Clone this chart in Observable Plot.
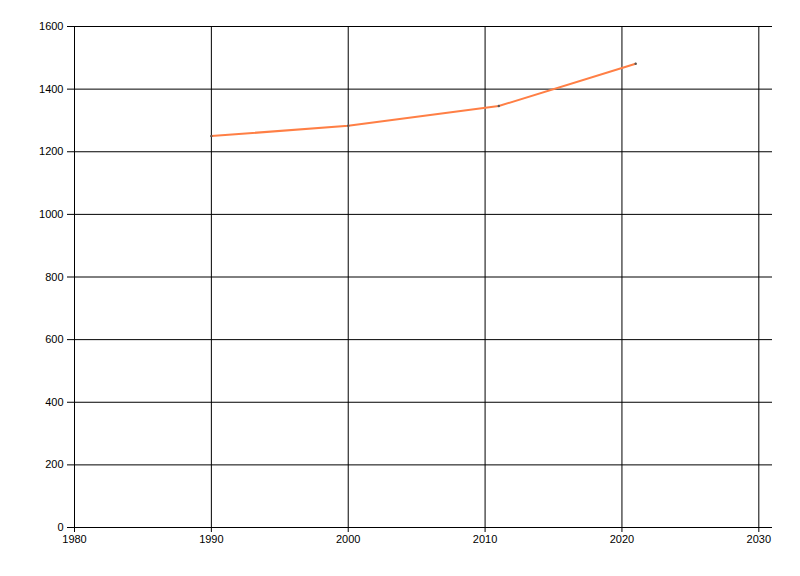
<!DOCTYPE html>
<html>
<head>
<meta charset="utf-8">
<script src="https://cdn.jsdelivr.net/npm/d3@7"></script>
<script src="https://cdn.jsdelivr.net/npm/@observablehq/plot@0.6"></script>
<style>
  html, body { margin: 0; padding: 0; background: #ffffff; }
  #chart svg { display: block; }
</style>
</head>
<body>
<div id="chart"></div>
<script>
const years = [1990, 2000, 2011, 2021];
const values = [1250, 1283, 1346, 1481];
const xTicks = [1980, 1990, 2000, 2010, 2020, 2030];
const yTicks = [0, 200, 400, 600, 800, 1000, 1200, 1400, 1600];

const data = years.map((y, i) => ({year: y, value: values[i]}));

const chart = Plot.plot({
  width: 800,
  height: 576,
  marginLeft: 74,
  marginRight: 28,
  marginTop: 26,
  marginBottom: 49,
  style: {fontFamily: "'Liberation Sans', Arial, sans-serif", fontSize: "11px", color: "#000", background: "#fff"},
  x: {domain: [1980, 2031], ticks: xTicks, tickFormat: d => String(d), label: null},
  y: {domain: [0, 1600], ticks: yTicks, tickFormat: d => String(d), label: null},
  marks: [
    Plot.gridX(xTicks, {stroke: "#000", strokeOpacity: 1, strokeWidth: 1}),
    Plot.gridY(yTicks, {stroke: "#000", strokeOpacity: 1, strokeWidth: 1}),
    Plot.axisX(xTicks, {tickSize: 5, tickPadding: 3, stroke: "#000", fill: "#000", tickFormat: d => String(d), label: null}),
    Plot.axisY(yTicks, {tickSize: 7, tickPadding: 4, stroke: "#000", fill: "#000", tickFormat: d => String(d), label: null}),
    Plot.line(data, {x: "year", y: "value", stroke: "#ff7f45", strokeWidth: 2}),
    Plot.dot(data, {x: "year", y: "value", r: 1.2, fill: "#555", stroke: "none"})
  ]
});
document.getElementById("chart").appendChild(chart);
</script>
</body>
</html>
